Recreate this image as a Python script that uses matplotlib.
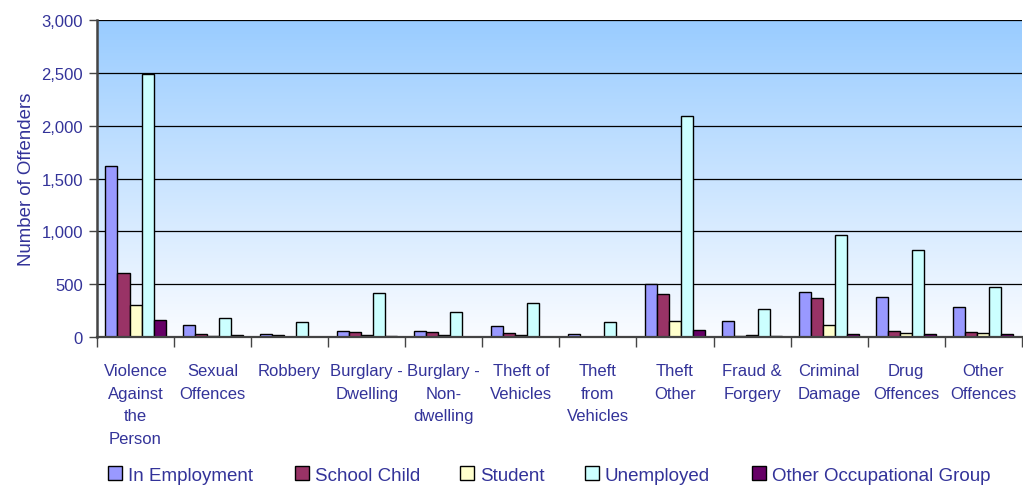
import matplotlib
matplotlib.use("Agg")
import matplotlib.pyplot as plt
import numpy as np
from matplotlib.patches import Patch

# categories along the x axis
offences = ["Violence\nAgainst\nthe\nPerson", "Sexual\nOffences", "Robbery",
            "Burglary -\nDwelling", "Burglary -\nNon-\ndwelling", "Theft of\nVehicles",
            "Theft\nfrom\nVehicles", "Theft\nOther", "Fraud &\nForgery",
            "Criminal\nDamage", "Drug\nOffences", "Other\nOffences"]

# number of offenders per occupational group
in_employment = [1615, 110, 28, 60, 55, 107, 30, 498, 148, 426, 381, 280]
school_child = [605, 28, 18, 45, 45, 40, 3, 403, 12, 369, 60, 50]
student = [303, 10, 3, 15, 15, 20, 3, 148, 20, 110, 40, 40]
unemployed = [2490, 183, 142, 419, 236, 318, 142, 2090, 261, 965, 825, 470]
other_group = [160, 22, 3, 5, 3, 3, 2, 66, 12, 32, 30, 32]

series_names = ["In Employment", "School Child", "Student", "Unemployed",
                "Other Occupational Group"]
series_colors = ["#9999FF", "#993366", "#FFFFCC", "#CCFFFF", "#660066"]

text_col = "#333399"
plt.rcParams["font.family"] = ["Liberation Sans", "DejaVu Sans"]

fig = plt.figure(figsize=(10.23, 4.89), dpi=100)
ax = fig.add_axes([0.0948, 0.3088, 0.904, 0.648])

data = [in_employment, school_child, student, unemployed, other_group]
x = np.arange(len(offences))
w = 0.156
for i, (vals, col, name) in enumerate(zip(data, series_colors, series_names)):
    ax.bar(x + (i - 2) * w, vals, w, color=col, edgecolor="black", linewidth=1,
           label=name, zorder=3)

ax.set_xlim(-0.5, len(offences) - 0.5)
ax.set_ylim(0, 3000)

# gradient background, light blue at top fading to near white
grad = np.linspace(0, 1, 256).reshape(-1, 1)
top = np.array([0x99, 0xCC, 0xFF]) / 255
bot = np.array([0xFA, 0xFC, 0xFF]) / 255
img = bot + (top - bot) * grad[:, :, None]
ax.imshow(img, extent=[-0.5, len(offences) - 0.5, 0, 3000], origin="lower",
          aspect="auto", zorder=0)

ax.set_yticks(np.arange(0, 3001, 500))
ax.set_yticklabels([f"{v:,}" for v in range(0, 3001, 500)])
ax.yaxis.grid(True, color="black", linewidth=0.9, zorder=1)
ax.set_axisbelow(False)

for s in ["top", "right"]:
    ax.spines[s].set_visible(False)
ax.spines["left"].set_color("#444444")
ax.spines["left"].set_linewidth(1.8)
ax.spines["bottom"].set_color("#444444")
ax.spines["bottom"].set_linewidth(1.6)
ax.spines["left"].set_zorder(4)
ax.spines["bottom"].set_zorder(4)

ax.set_xticks(x)
ax.set_xticklabels(offences, fontsize=12, color=text_col, linespacing=1.62,
                   va="top")
ax.tick_params(axis="x", length=0, pad=19)
ax.set_xticks(np.arange(-0.5, len(offences)), minor=True)
ax.tick_params(axis="x", which="minor", length=7, width=1, color="#444444")
ax.tick_params(axis="y", length=6, width=1, color="#444444",
               labelsize=12, labelcolor=text_col, pad=4)

ax.set_ylabel("Number of Offenders", fontsize=13.4, color=text_col, labelpad=5)

# legend entries spread along the bottom
legend_x = [108, 295, 460, 585, 752]
for xpos, name, col in zip(legend_x, series_names, series_colors):
    h = Patch(facecolor=col, edgecolor="black", linewidth=1)
    fig.legend([h], [name], loc="center left",
               bbox_to_anchor=(xpos / 1023, 1 - 476 / 489), frameon=False,
               fontsize=13.5, labelcolor=text_col, handlelength=0.75,
               handleheight=0.75, handletextpad=0.3, borderpad=0,
               borderaxespad=0)

fig.savefig("out.png", dpi=100)
